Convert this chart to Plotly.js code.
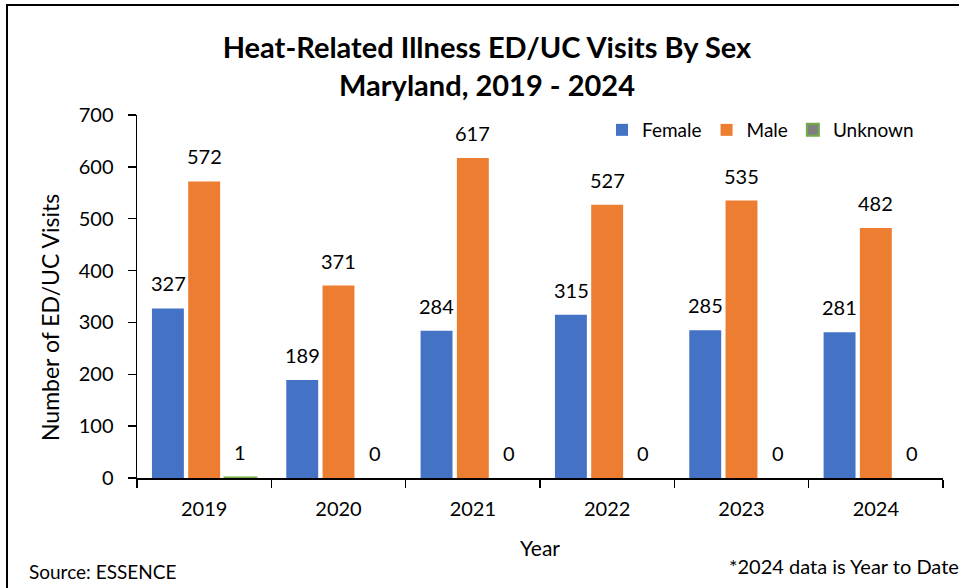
<!DOCTYPE html>
<html>
<head>
<meta charset="utf-8">
<script src="https://cdn.plot.ly/plotly-3.0.1.min.js"></script>
<style>html,body{margin:0;padding:0;background:#fff}#chart{width:959px;height:588px}</style>
</head>
<body>
<div id="chart"></div>
<script>
const years = ['2019', '2020', '2021', '2022', '2023', '2024'];
const female = [327, 189, 284, 315, 285, 281];
const male = [572, 371, 617, 527, 535, 482];
const unknown = [1, 0, 0, 0, 0, 0];
const seriesNames = ['Female', 'Male', 'Unknown'];
const yTicks = [0, 100, 200, 300, 400, 500, 600, 700];

const FONT = 'Lato, "Open Sans", sans-serif';
const colors = ['#4472C4', '#ED7D31', '#7F7F7F'];
const lineColors = ['#4472C4', '#ED7D31', '#70AD47'];
const seriesValues = [female, male, unknown];

const traces = seriesValues.map((vals, i) => ({
  type: 'bar',
  name: seriesNames[i],
  x: years,
  y: vals,
  marker: {
    color: colors[i],
    line: {color: lineColors[i], width: i === 2 ? vals.map(v => (v > 0 ? 2 : 0)) : 0}
  },
  hoverinfo: 'x+y+name'
}));

const shifts = [-36, 0, 36];
const annotations = [];
seriesValues.forEach((vals, i) => {
  vals.forEach((v, j) => {
    annotations.push({
      x: j, y: v, xref: 'x', yref: 'y',
      text: String(v), showarrow: false,
      xanchor: 'center', yanchor: 'bottom',
      xshift: shifts[i], yshift: 11,
      font: {family: FONT, size: 20, color: '#000'}
    });
  });
});
annotations.push({
  xref: 'paper', yref: 'paper', x: (50 - 137) / 806, y: (478 - 318) / 363,
  xanchor: 'center', yanchor: 'middle', showarrow: false, textangle: -90,
  text: 'Number of ED/UC Visits', font: {family: FONT, size: 23, color: '#000'}
});
annotations.push({
  xref: 'paper', yref: 'paper', x: (27 - 137) / 806, y: (478 - 571) / 363,
  xanchor: 'left', yanchor: 'middle', showarrow: false,
  text: 'Source: ESSENCE', font: {family: FONT, size: 19, color: '#000'}
});
annotations.push({
  xref: 'paper', yref: 'paper', x: (727 - 137) / 806, y: (478 - 566) / 363,
  xanchor: 'left', yanchor: 'middle', showarrow: false,
  text: '*2024 data is Year to Date', font: {family: FONT, size: 20, color: '#000'}
});

const layout = {
  width: 959, height: 588,
  margin: {l: 137, r: 16, t: 115, b: 110},
  paper_bgcolor: '#fff', plot_bgcolor: '#fff',
  font: {family: FONT, color: '#000'},
  title: {
    text: '<b>Heat-Related Illness ED/UC Visits By Sex<br>Maryland, 2019 - 2024</b>',
    font: {family: FONT, size: 29, color: '#000'},
    xref: 'container', x: 487 / 959, xanchor: 'center',
    yref: 'container', y: 1 - 58 / 588, yanchor: 'middle'
  },
  barmode: 'group',
  bargap: 0.19,
  bargroupgap: 0.12,
  showlegend: true,
  legend: {
    orientation: 'h', x: (602 - 137) / 806, xanchor: 'left',
    y: (478 - 130) / 363, yanchor: 'middle',
    font: {family: FONT, size: 19, color: '#000'},
    bgcolor: 'rgba(0,0,0,0)', traceorder: 'normal'
  },
  xaxis: {
    type: 'category', range: [-0.5, 5.5], autorange: false,
    showline: true, linecolor: '#000', linewidth: 1.5,
    ticks: 'outside', tickson: 'boundaries', ticklen: 8, tickwidth: 1.5, tickcolor: '#000',
    ticklabelstandoff: 12, tickangle: 0,
    tickfont: {family: FONT, size: 20, color: '#000'},
    title: {text: 'Year', font: {family: FONT, size: 21, color: '#000'}, standoff: 23},
    showgrid: false, zeroline: false, fixedrange: true
  },
  yaxis: {
    range: [0, 700], autorange: false,
    tickvals: yTicks, ticktext: yTicks.map(String),
    showline: true, linecolor: '#000', linewidth: 1.5,
    ticks: 'outside', ticklen: 8, tickwidth: 1.5, tickcolor: '#000',
    ticklabelstandoff: 10,
    tickfont: {family: FONT, size: 20, color: '#000'},
    showgrid: false, zeroline: false, fixedrange: true
  },
  annotations: annotations,
  shapes: [{
    type: 'rect', xref: 'paper', yref: 'paper',
    x0: (7 - 137) / 806, x1: 1.1, y0: -0.4, y1: (478 - 5) / 363,
    line: {color: '#000', width: 2}, fillcolor: 'rgba(0,0,0,0)', layer: 'below'
  }]
};

Plotly.newPlot('chart', traces, layout, {displayModeBar: false, staticPlot: true});
</script>
</body>
</html>
